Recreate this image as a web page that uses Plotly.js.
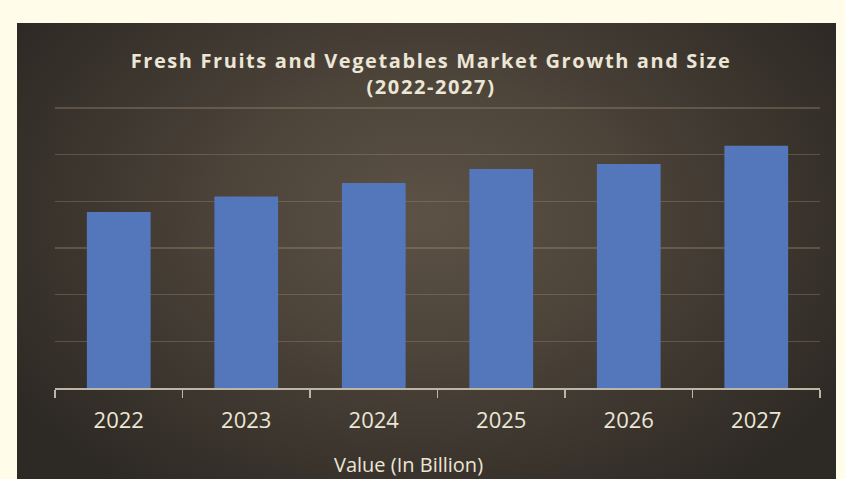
<!DOCTYPE html>
<html>
<head>
<meta charset="utf-8">
<script src="https://cdn.plot.ly/plotly-3.0.1.min.js"></script>
<style>
  html, body { margin: 0; padding: 0; background: #fffde9; }
  #wrap { position: relative; width: 845px; height: 479px; overflow: hidden; background: #fffde9; }
  #panel { position: absolute; left: 17px; top: 23px; width: 819px; height: 456px;
    background: radial-gradient(ellipse 60% 75% at 50% 42%, #5c5246 0%, #4d443a 40%, #3a342d 75%, #2d2924 100%); }
  #chart { position: absolute; left: 0; top: 0; width: 845px; height: 479px; }
  .gtitle { letter-spacing: 1.6px; }
</style>
</head>
<body>
<div id="wrap">
  <div id="panel"></div>
  <div id="chart"></div>
</div>
<script>
const years = ['2022', '2023', '2024', '2025', '2026', '2027'];
const values = [3.77, 4.10, 4.39, 4.69, 4.80, 5.19];
const chartTitle = 'Fresh Fruits and Vegetables Market Growth and Size<br>(2022-2027)';
const axisLabel = 'Value (In Billion)';

const textColor = '#ece6d6';

const trace = {
  type: 'bar',
  x: years,
  y: values,
  marker: { color: '#5377ba', line: { width: 0 } },
  hoverinfo: 'x+y'
};

const layout = {
  width: 845,
  height: 479,
  paper_bgcolor: 'rgba(0,0,0,0)',
  plot_bgcolor: 'rgba(0,0,0,0)',
  margin: { l: 55, r: 25, t: 106, b: 91 },
  showlegend: false,
  bargap: 0.5,
  title: {
    text: chartTitle,
    x: 431 / 845,
    xref: 'container',
    xanchor: 'center',
    y: 1 - 68 / 479,
    yref: 'container',
    yanchor: 'middle',
    font: { family: 'Open Sans, sans-serif', size: 20, color: textColor, weight: 'bold' }
  },
  xaxis: {
    type: 'category',
    showgrid: false,
    showline: true,
    linecolor: '#bdb6a6',
    linewidth: 2,
    ticks: 'outside',
    tickson: 'boundaries',
    ticklen: 8,
    tickwidth: 1.5,
    tickcolor: '#bdb6a6',
    ticklabelstandoff: 12,
    tickfont: { family: 'Open Sans, sans-serif', size: 22, color: textColor },
    fixedrange: true
  },
  yaxis: {
    range: [0, 6.04],
    dtick: 1,
    showticklabels: false,
    showgrid: true,
    gridcolor: 'rgba(170,150,125,0.33)',
    gridwidth: 1.5,
    zeroline: false,
    showline: false,
    ticks: '',
    fixedrange: true
  },
  annotations: [{
    text: axisLabel,
    xref: 'paper', yref: 'paper',
    x: (408 - 55) / 765, y: 0,
    yshift: -76,
    xanchor: 'center', yanchor: 'middle',
    showarrow: false,
    font: { family: 'Open Sans, sans-serif', size: 20, color: textColor }
  }]
};

Plotly.newPlot('chart', [trace], layout, { displayModeBar: false, staticPlot: true });
</script>
</body>
</html>
